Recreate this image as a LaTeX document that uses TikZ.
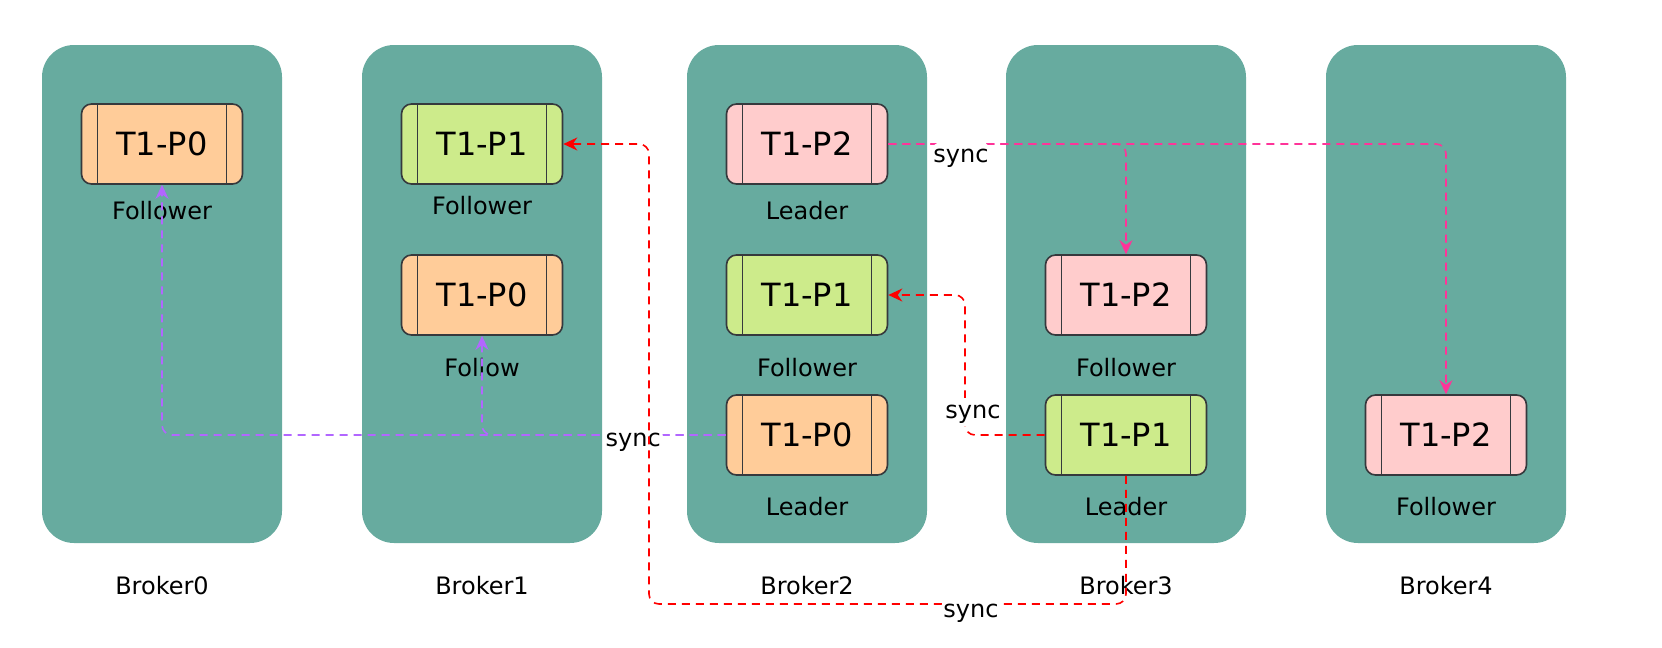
\documentclass[tikz,border=0pt]{standalone}
\usepackage{fontspec}
\setmainfont{DejaVu Sans}
\usetikzlibrary{positioning}
\usetikzlibrary{arrows.meta}
\definecolor{brokerfill}{HTML}{67AB9F}
\definecolor{pzero}{HTML}{FFCC99}
\definecolor{pone}{HTML}{CDEB8B}
\definecolor{ptwo}{HTML}{FFCCCC}
\definecolor{edgegray}{HTML}{36393D}
\definecolor{syncpurple}{HTML}{B266FF}
\definecolor{syncred}{HTML}{FF0000}
\definecolor{syncpink}{HTML}{FF3399}
\tikzset{broker/.style={ % Sets the properties for each broker column
fill=brokerfill,
rounded corners=16pt,
minimum width=120pt,
minimum height=249pt},
part/.style={ % partition box with the two side bars
draw=edgegray,
line width=0.8pt,
rounded corners=5pt,
minimum width=80.5pt,
minimum height=40pt,
inner sep=0pt,
font=\fontsize{16}{18}\selectfont,
path picture={
\draw[edgegray, line width=0.8pt]
([xshift=8pt]path picture bounding box.north west) -- ([xshift=8pt]path picture bounding box.south west)
([xshift=-8pt]path picture bounding box.north east) -- ([xshift=-8pt]path picture bounding box.south east);}},
role/.style={inner sep=0pt, font=\fontsize{12}{14}\selectfont},
sync/.style={ % label on a sync connector, baseline placed below the line
fill=white, text=black,
anchor=base,
text height=9pt, text depth=3pt,
inner sep=1pt,
font=\fontsize{12}{14}\selectfont},
syncline/.style={ % Sets the properties for each sync connector
line width=0.8pt,
dash pattern=on 4pt off 3pt,
rounded corners=5pt,
-{Stealth[length=7pt,width=6.5pt]}}}

\begin{document}
\begin{tikzpicture}[x=0.5pt, y=-0.5pt]
    \useasboundingbox (0,0) rectangle (1662,648);
    % brokers
    \node[broker] (b0) at (162,294) {};
    \node[broker] (b1) at (482,294) {};
    \node[broker] (b2) at (807,294) {};
    \node[broker] (b3) at (1126,294) {};
    \node[broker] (b4) at (1446,294) {};
    \node[role, below=16pt of b0] (b0name) {Broker0};
    \node[role, below=16pt of b1] (b1name) {Broker1};
    \node[role, below=16pt of b2] (b2name) {Broker2};
    \node[role, below=16pt of b3] (b3name) {Broker3};
    \node[role, below=16pt of b4] (b4name) {Broker4};
    % partitions
    \node[part, fill=pzero] (b0p0) at (162,144) {T1-P0};
    \node[part, fill=pone] (b1p1) at (482,144) {T1-P1};
    \node[part, fill=pzero] (b1p0) at (482,295) {T1-P0};
    \node[part, fill=ptwo] (b2p2) at (807,144) {T1-P2};
    \node[part, fill=pone] (b2p1) at (807,295) {T1-P1};
    \node[part, fill=pzero] (b2p0) at (807,435) {T1-P0};
    \node[part, fill=ptwo] (b3p2) at (1126,295) {T1-P2};
    \node[part, fill=pone] (b3p1) at (1126,435) {T1-P1};
    \node[part, fill=ptwo] (b4p2) at (1446,435) {T1-P2};
    \node[role, below=8pt of b0p0] (b0p0role) {Follower};
    \node[role, below=5.5pt of b1p1] (b1p1role) {Follower};
    \node[role, below=11pt of b1p0] (b1p0role) {Follow};
    \node[role, below=8pt of b2p2] (b2p2role) {Leader};
    \node[role, below=11pt of b2p1] (b2p1role) {Follower};
    \node[role, below=10.5pt of b2p0] (b2p0role) {Leader};
    \node[role, below=11pt of b3p2] (b3p2role) {Follower};
    \node[role, below=10.5pt of b3p1] (b3p1role) {Leader};
    \node[role, below=10.5pt of b4p2] (b4p2role) {Follower};
    % sync connectors
    \coordinate (rb) at (649,604);
    \coordinate (rj) at (965,295);
    \draw[syncline, syncpurple] (b2p0.west) -| (b1p0.south);
    \draw[syncline, syncpurple] (b2p0.west) -| node[sync, pos=0.082, yshift=-5.5pt] {sync} (b0p0.south);
    \draw[syncline, syncpink] (b2p2.east) -| (b4p2.north);
    \draw[syncline, syncpink] (b2p2.east) -| node[sync, pos=0.153, yshift=-9pt] {sync} (b3p2.north);
    \draw[syncline, syncred] (b3p1.west) -| node[sync, pos=0.625, xshift=4pt, yshift=-9pt] {sync} (rj) -- (b2p1.east);
    \draw[syncline, syncred] (b3p1.south) |- node[sync, pos=0.6625, yshift=-6.5pt] {sync} (rb) |- (b1p1.east);
\end{tikzpicture}
\end{document}
